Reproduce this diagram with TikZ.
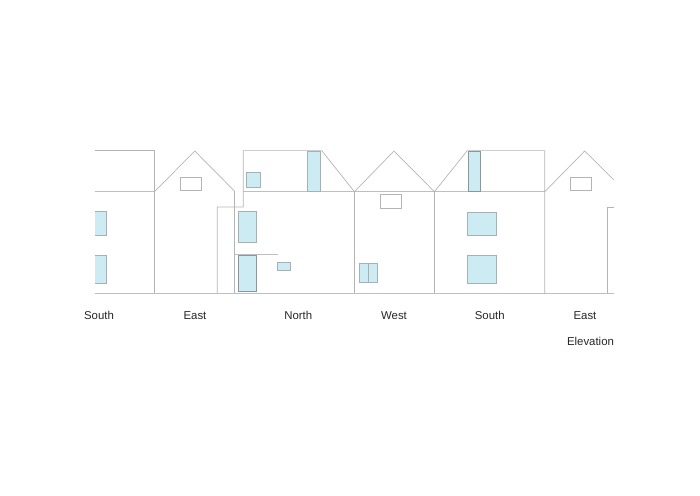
\documentclass[tikz,border=0pt]{standalone}
\usepackage{fontspec}
\setmainfont{Liberation Sans}
\definecolor{wall}{HTML}{B4B4B4}
\definecolor{glass}{HTML}{CCEBF3}
\definecolor{frameedge}{HTML}{A4B2B7}
\begin{document}
\begin{tikzpicture}[x=1pt,y=-1pt,
  outline/.style={draw=wall,line width=0.7pt,line join=miter},
  heavy/.style={draw=wall!85,line width=1pt},
  pane/.style={draw=frameedge,fill=glass,line width=0.8pt},
  blank/.style={draw=wall,line width=0.7pt},
  caption/.style={font=\fontsize{11.4}{13}\selectfont,text=black!85,inner sep=0pt,anchor=center}]
\useasboundingbox (0,0) rectangle (700,495);
% ground and floor lines
\draw[heavy] (94.5,293.2) -- (614,293.2);
\draw[heavy] (94.5,191.7) -- (154.5,191.7);
\draw[heavy] (243.3,191.7) -- (544.7,191.7);
% far-left South
\draw[outline] (94.5,150.6) -- (154.5,150.6) -- (154.5,293.2);
% East
\draw[outline] (154.5,191.7) -- (194.8,151) -- (234.4,191) -- (234.4,293.2);
\draw[outline] (217.3,293.2) -- (217.3,207) -- (243.3,207) -- (243.3,150.6) -- (321.7,150.6) -- (354.4,191.7);
% West
\draw[outline] (354.4,293.2) -- (354.4,191.7) -- (394,151) -- (434.4,191.7) -- (434.4,293.2);
% South
\draw[outline] (434.4,191.7) -- (467.3,150.6) -- (544.7,150.6) -- (544.7,293.2);
% East, right
\draw[outline] (544.7,191.7) -- (584.7,151) -- (614,180);
\draw[outline] (607.3,293.2) -- (607.3,207) -- (614,207);
% canopy
\draw[heavy] (234.4,254.8) -- (278.3,254.8);
% plain windows
\draw[blank] (180.3,177.3) rectangle (201.7,190);
\draw[blank] (380.3,194.7) rectangle (401.7,208);
\draw[blank] (570.3,177.3) rectangle (591.7,190);
% glazed windows
\fill[glass] (94.5,211.7) rectangle (106.7,235);
\draw[frameedge,line width=0.8pt] (94.5,211.7) -- (106.7,211.7) -- (106.7,235) -- (94.5,235);
\fill[glass] (94.5,255.7) rectangle (106.7,283.3);
\draw[frameedge,line width=0.8pt] (94.5,255.7) -- (106.7,255.7) -- (106.7,283.3) -- (94.5,283.3);
\draw[pane] (246.3,172.4) rectangle (260.7,187.6);
\draw[pane] (307.4,151) rectangle (320.7,191.7);
\draw[pane] (238.4,211.8) rectangle (256.7,242.7);
\draw[pane,draw=frameedge!85!black] (238.4,255.4) rectangle (256.7,291.6);
\draw[pane] (277.4,262.8) rectangle (290.4,270.3);
\draw[pane] (359.4,263.8) rectangle (377.7,282.3);
\draw[frameedge,line width=0.8pt] (368.5,263.8) -- (368.5,282.3);
\draw[pane,draw=frameedge!85!black] (468.4,151) rectangle (480.7,191.7);
\draw[pane] (467.4,212) rectangle (496.7,235);
\draw[pane] (467.4,255.8) rectangle (496.7,283.2);
% captions
\node[caption] (s1) at (99,315.3) {South};
\node[caption] (e1) at (195,315.3) {East};
\node[caption] (n1) at (298.3,315.3) {North};
\node[caption] (w1) at (394,315.3) {West};
\node[caption] (s2) at (489.7,315.3) {South};
\node[caption] (e2) at (585,315.3) {East};
\node[caption] (el) at (590.5,341.4) {Elevation};
\end{tikzpicture}
\end{document}
